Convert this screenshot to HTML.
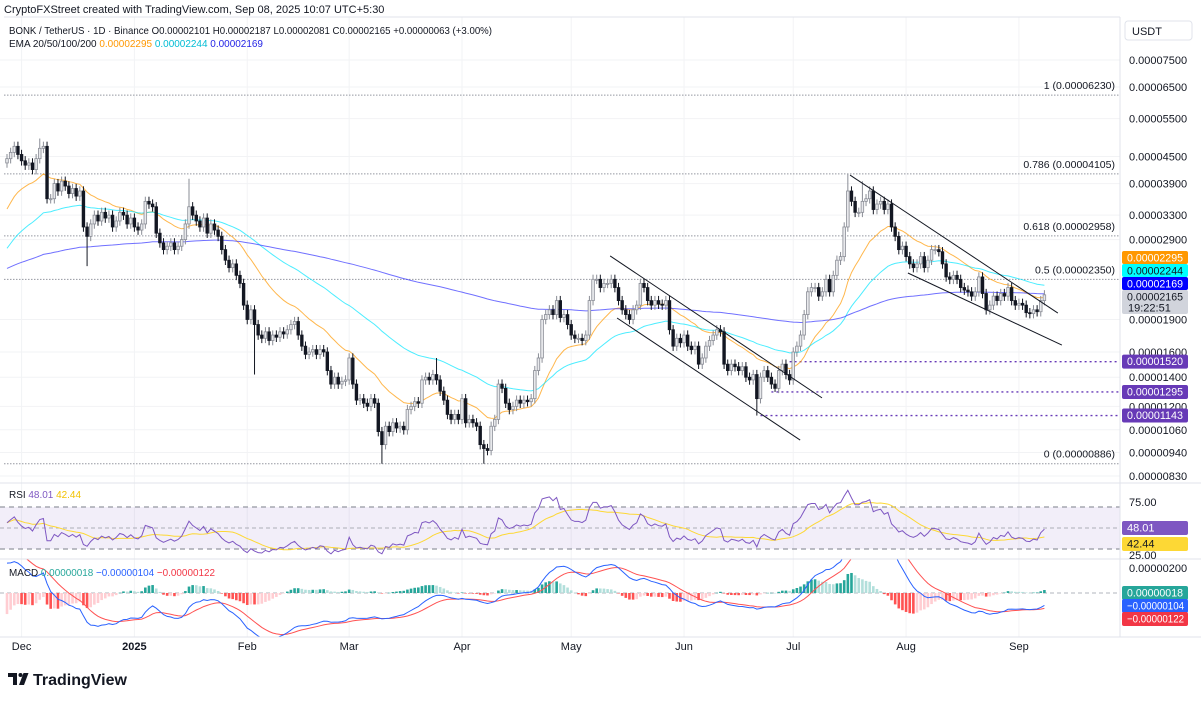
<!DOCTYPE html>
<html><head><meta charset="utf-8">
<style>
html,body{margin:0;padding:0;background:#fff;}
body{width:1201px;height:701px;overflow:hidden;font-family:"Liberation Sans",sans-serif;}
svg text{font-family:"Liberation Sans",sans-serif;}
</style></head>
<body>
<svg id="chart" width="1201" height="701" viewBox="0 0 1201 701" xmlns="http://www.w3.org/2000/svg">
  <defs>
    <clipPath id="cp-price"><rect x="0" y="17" width="1120" height="466"/></clipPath>
    <clipPath id="cp-rsi"><rect x="0" y="483" width="1120" height="76"/></clipPath>
    <clipPath id="cp-macd"><rect x="0" y="559" width="1120" height="78"/></clipPath>
  </defs>
  <text x="4" y="13" font-size="11" fill="#131722">CryptoFXStreet created with TradingView.com, Sep 08, 2025 10:07 UTC+5:30</text>
  <g id="grid"></g>
  <g id="fibs"></g>
  <g id="emas" clip-path="url(#cp-price)"></g>
  <g id="candles" clip-path="url(#cp-price)"></g>
  <g id="draw" clip-path="url(#cp-price)"></g>
  <g id="rsi" clip-path="url(#cp-rsi)"></g>
  <g id="macd" clip-path="url(#cp-macd)"></g>
  <g id="frame">
    <line x1="4" y1="17" x2="1120" y2="17" stroke="#e0e3eb"/>
    <line x1="1120" y1="17" x2="1120" y2="637" stroke="#e0e3eb"/>
    <line x1="0" y1="483" x2="1201" y2="483" stroke="#e0e3eb"/>
    <line x1="0" y1="559" x2="1201" y2="559" stroke="#e0e3eb"/>
    <line x1="0" y1="637" x2="1201" y2="637" stroke="#e0e3eb"/>
  </g>
  <g id="axis"></g>
  <g id="legend">
    <text x="9" y="34" font-size="10.5" fill="#131722" textLength="483" lengthAdjust="spacingAndGlyphs">BONK / TetherUS · 1D · Binance  O0.00002101  H0.00002187  L0.00002081  C0.00002165  +0.00000063 (+3.00%)</text>
    <text x="9" y="47" font-size="10.5" fill="#131722" textLength="254" lengthAdjust="spacingAndGlyphs">EMA 20/50/100/200 <tspan fill="#ff9800">0.00002295</tspan> <tspan fill="#00bcd4">0.00002244</tspan> <tspan fill="#2323e6">0.00002169</tspan></text>
    <text x="9" y="498" font-size="10.5" fill="#131722" textLength="72" lengthAdjust="spacingAndGlyphs">RSI <tspan fill="#7e57c2">48.01</tspan> <tspan fill="#f2c200">42.44</tspan></text>
    <text x="9" y="576" font-size="10.5" fill="#131722" textLength="206" lengthAdjust="spacingAndGlyphs">MACD <tspan fill="#26a69a">0.00000018</tspan> <tspan fill="#2962ff">−0.00000104</tspan> <tspan fill="#f23645">−0.00000122</tspan></text>
  </g>
  <g id="time"></g>
  <g>
    <path d="M8 673 h9 v12 h-4 v-8 h-5 z" fill="#131722"/>
    <circle cx="20.5" cy="675" r="2" fill="#131722"/>
    <path d="M19 685 l4.5 -12 h5 l-4.5 12 z" fill="#131722"/>
    <text x="33" y="685" font-size="16" font-weight="bold" fill="#131722">TradingView</text>
  </g>
</svg>
<script>
// ---- data ----
const closes = [
4.45,4.60,4.75,4.55,4.40,4.30,4.35,4.20,4.45,4.70,4.75,3.60,
3.60,3.90,3.75,3.95,3.85,3.70,3.80,3.65,3.75,
3.10,2.95,3.15,3.30,3.20,3.35,3.25,3.30,3.10,3.20,3.35,3.30,3.15,3.25,3.10,3.05,3.15,
3.55,3.50,3.45,3.00,2.85,2.75,2.80,2.85,2.75,2.80,2.90,
3.15,3.45,3.30,3.20,3.10,3.25,3.00,3.15,3.05,2.95,
2.75,2.60,2.50,2.55,2.40,2.30,2.05,1.90,2.00,1.85,
1.75,1.72,1.78,1.70,1.75,1.73,1.78,1.76,1.80,1.85,1.88,
1.75,1.65,1.58,1.60,1.62,1.58,1.62,1.60,
1.45,1.35,1.40,1.35,1.37,1.38,1.55,
1.35,1.24,1.25,1.22,1.20,1.25,1.22,
1.05,0.98,1.08,1.05,1.10,1.07,1.08,1.06,
1.18,1.20,1.23,1.22,1.38,1.40,1.38,1.42,1.38,
1.30,1.24,1.15,1.12,1.15,1.12,1.25,1.10,1.12,1.10,1.08,
0.98,0.96,0.95,1.08,1.12,1.35,1.32,
1.22,1.18,1.20,1.24,1.22,1.24,1.23,1.25,1.45,1.55,
1.90,1.95,2.00,1.95,2.10,1.92,1.95,1.85,1.75,1.72,1.72,
1.70,1.75,2.10,2.35,2.35,2.25,2.30,2.30,2.35,2.25,
2.10,2.00,1.95,1.90,2.00,2.05,2.30,2.25,2.10,2.05,2.10,2.06,2.05,2.10,
1.80,1.65,1.72,1.68,1.75,1.65,1.62,1.65,1.50,1.55,1.65,1.70,
1.75,1.80,1.78,1.50,1.45,1.50,1.48,1.45,1.48,1.40,1.38,1.42,
1.25,1.40,1.45,1.40,1.35,1.32,1.45,1.50,1.42,1.38,1.60,1.65,1.75,
1.95,2.20,2.25,2.25,2.15,2.20,2.35,2.20,2.40,2.60,2.65,3.10,3.75,
3.55,3.35,3.35,3.55,3.60,3.75,3.40,3.50,3.55,3.40,3.50,3.10,2.95,
2.75,2.80,2.65,2.55,2.50,2.55,2.65,2.50,2.60,2.75,2.75,2.72,2.55,2.38,2.35,
2.40,2.35,2.25,2.22,2.20,2.15,2.20,2.38,2.18,2.00,2.05,2.15,2.10,2.18,2.15,2.25,2.10,
2.05,2.07,2.05,1.97,1.96,2.00,1.98,2.10,2.165];
const firstOpen = 4.35;
const wickHighIdx = [50, 118, 231, 9, 235];
const wickHighVal = [4.00, 1.55, 4.10, 4.95, 3.95];
const wickLowIdx = [22, 68, 103, 131, 206, 211];
const wickLowVal = [2.52, 1.42, 0.886, 0.886, 1.143, 1.295];
const fibLevels = ["1", "0.786", "0.618", "0.5", "0"];
const fibPrices = [6.230, 4.105, 2.958, 2.350, 0.886];
const axisTicks = [7.5, 6.5, 5.5, 4.5, 3.9, 3.3, 2.9, 1.9, 1.6, 1.4, 1.2, 1.06, 0.94, 0.83];
const supportPrices = [1.520, 1.295, 1.143];
const supportStartIdx = [215, 210, 207];
const channelStartIdx = [165.7, 167.6, 231.6, 247.5];
const channelStartPrice = [2.66, 1.915, 4.08, 2.43];
const channelEndIdx = [223.9, 217.9, 288.7, 289.8];
const channelEndPrice = [1.255, 1.004, 1.966, 1.66];
const monthLabels = ["Dec","2025","Feb","Mar","Apr","May","Jun","Jul","Aug","Sep"];
const monthIdx = [4,35,66,94,125,155,186,216,247,278];

// ---- scales ----
const NS = "http://www.w3.org/2000/svg";
const xOf = i => 7 + i * 3.64;
const yOf = p => 60 + (Math.log(7.5) - Math.log(p)) * 189;
const yRsi = v => 528 - (v - 50) * 1.05;
const yMacd = v => 593 - v * 125;
function mk(tag, attrs, parent){ const e=document.createElementNS(NS,tag); for(const k in attrs) e.setAttribute(k,attrs[k]); parent.appendChild(e); return e; }
function fmtP8(p){ const n=Math.round(p*1000); return "0." + String(n).padStart(8,"0"); }

const g = id => document.getElementById(id);
const N = closes.length;
const opens = closes.map((c,i)=> i===0 ? firstOpen : closes[i-1]);

// grid
for (const t of axisTicks){
  const gl = mk("line",{x1:0,x2:1120,y1:yOf(t),y2:yOf(t),stroke:"#f2f3f5"},g("grid"));
  
  
}
monthIdx.forEach(mi=>{
  const vl = mk("line",{x1:xOf(mi),x2:xOf(mi),y1:17,y2:637,stroke:"#f2f3f5"},g("grid"));
  
  
});

// fib levels
fibLevels.forEach((lv,k)=>{
  const y=yOf(fibPrices[k]);
  const l = mk("line",{x1:4,x2:1120,y1:y,y2:y,stroke:"#9598a1","stroke-dasharray":"1.5,1.5"},g("fibs"));
  
  
  const t = mk("text",{x:1115,y:y-6,"font-size":10.5,fill:"#131722","text-anchor":"end"},g("fibs"));
  t.textContent = lv + " (" + fmtP8(fibPrices[k]) + ")";
  
  
});

// support lines
supportPrices.forEach((p,k)=>{
  const y=yOf(p);
  const l = mk("line",{x1:xOf(supportStartIdx[k]),x2:1120,y1:y,y2:y,stroke:"#673ab7","stroke-width":1.3,"stroke-dasharray":"2,3"},g("fibs"));
  
  
});

// EMAs
function ema(period, seed){ const a=2/(period+1); let e=seed; return closes.map(c=> (e = e + a*(c-e))); }
const ema20 = ema(20, 3.3), ema50 = ema(50, 2.7), ema200 = ema(200, 2.47);
[[ema20,"#ff9800","ema-20-line"],[ema50,"#00e5ff","ema-50-line"],[ema200,"#3333ff","ema-200-line"]].forEach(([arr,col,name])=>{
  const d = arr.map((v,i)=>(i?"L":"M")+xOf(i).toFixed(1)+","+yOf(v).toFixed(1)).join("");
  const p = mk("path",{d,fill:"none",stroke:col,"stroke-width":1,opacity:0.7},g("emas"));
  
  
});

// candles
for (let i=0;i<N;i++){
  const o=opens[i], c=closes[i];
  let hi=Math.max(o,c)*1.025, lo=Math.min(o,c)*0.975;
  const hk=wickHighIdx.indexOf(i); if(hk>=0) hi=wickHighVal[hk];
  const lk=wickLowIdx.indexOf(i); if(lk>=0) lo=wickLowVal[lk];
  const x=xOf(i), up=c>=o;
  const w = mk("line",{x1:x,x2:x,y1:yOf(hi),y2:yOf(lo),stroke:up?"#8a8d96":"#131722","stroke-width":1},g("candles"));
  
  
  const yt=yOf(Math.max(o,c)), yb=yOf(Math.min(o,c));
  const b = mk("rect",{x:x-1.3,y:yt,width:2.6,height:Math.max(1,yb-yt),fill:up?"#e8e9ec":"#131722",stroke:up?"#8a8d96":"#131722","stroke-width":0.8},g("candles"));
  
  
}

// channels
for (let k=0;k<4;k++){
  const l = mk("line",{x1:xOf(channelStartIdx[k]),y1:yOf(channelStartPrice[k]),x2:xOf(channelEndIdx[k]),y2:yOf(channelEndPrice[k]),stroke:"#131722","stroke-width":1},g("draw"));
  
  
}

// RSI
const rsiVals=[]; { let ag=0.09, al=0.08;
  for(let i=0;i<N;i++){ const ch=closes[i]-opens[i]; const gn=Math.max(ch,0), ls=Math.max(-ch,0);
    ag=(ag*13+gn)/14; al=(al*13+ls)/14; rsiVals.push(100-100/(1+ag/al)); } }
const rsiMa = rsiVals.map((v,i)=>{ const s=Math.max(0,i-13); const sl=rsiVals.slice(s,i+1); return sl.reduce((a,b)=>a+b,0)/sl.length; });
{
  const bg = mk("rect",{x:0,y:yRsi(70),width:1120,height:yRsi(30)-yRsi(70),fill:"#7e57c2","fill-opacity":0.1},g("rsi"));
  
  
  [70,50,30].forEach(v=>{
    const l = mk("line",{x1:0,x2:1120,y1:yRsi(v),y2:yRsi(v),stroke:"#9598a1","stroke-dasharray":v===50?"4,3":"5,4","stroke-width":v===50?0.8:1.2},g("rsi"));
    
    
  });
  const pm = mk("path",{d:rsiMa.map((v,i)=>(i?"L":"M")+xOf(i).toFixed(1)+","+yRsi(v).toFixed(1)).join(""),fill:"none",stroke:"#fdd835","stroke-width":1},g("rsi"));
  
  
  const pr = mk("path",{d:rsiVals.map((v,i)=>(i?"L":"M")+xOf(i).toFixed(1)+","+yRsi(v).toFixed(1)).join(""),fill:"none",stroke:"#7e57c2","stroke-width":1},g("rsi"));
  
  
}

// MACD
const macdLine=[], sigLine=[], hist=[]; { let e12=4.35,e26=4.10,s=0.45;
  for(let i=0;i<N;i++){ e12+= (2/13)*(closes[i]-e12); e26+=(2/27)*(closes[i]-e26); const m=e12-e26; s+=(2/10)*(m-s);
    macdLine.push(m); sigLine.push(s); hist.push(m-s);} }
{
  const z = mk("line",{x1:0,x2:1120,y1:593,y2:593,stroke:"#b2b5be","stroke-dasharray":"4,3"},g("macd"));
  
  
  hist.forEach((h,i)=>{
    const prev = i? hist[i-1] : h;
    const col = h>=0 ? (h>=prev?"#26a69a":"#b2dfdb") : (h<prev?"#ff5252":"#ffcdd2");
    const y1=yMacd(Math.max(h,0)), y2=yMacd(Math.min(h,0));
    const r = mk("rect",{x:xOf(i)-1.3,y:y1,width:2.6,height:Math.max(0.5,y2-y1),fill:col},g("macd"));
    
    
  });
  const ps = mk("path",{d:sigLine.map((v,i)=>(i?"L":"M")+xOf(i).toFixed(1)+","+yMacd(v).toFixed(1)).join(""),fill:"none",stroke:"#ff5252","stroke-width":1},g("macd"));
  
  
  const pm = mk("path",{d:macdLine.map((v,i)=>(i?"L":"M")+xOf(i).toFixed(1)+","+yMacd(v).toFixed(1)).join(""),fill:"none",stroke:"#2962ff","stroke-width":1},g("macd"));
  
  
}

// price axis
{
  const ax=g("axis");
  const ub = mk("rect",{x:1125,y:21,width:67,height:19,rx:3,fill:"#fff",stroke:"#e0e3eb"},ax);
  
  
  const ut = mk("text",{x:1132,y:35,"font-size":11,fill:"#131722"},ax); ut.textContent="USDT";
  
  
  axisTicks.forEach(t=>{
    const tx = mk("text",{x:1129,y:yOf(t)+4,"font-size":11,fill:"#131722"},ax);
    tx.textContent = fmtP8(t);
    
    
  });
  function box(y,h,bg,fg,txt,name,txt2){
    const r = mk("rect",{x:1122,y:y,width:66,height:h,rx:2,fill:bg},ax);
    
    
    const t = mk("text",{x:1127,y:y+10.5,"font-size":11,fill:fg,textLength:txt.length>10?57:56,lengthAdjust:"spacingAndGlyphs"},ax); t.textContent=txt;
    if(txt.length<8){ t.removeAttribute('textLength'); t.removeAttribute('lengthAdjust'); }
    
    
    if(txt2){ const t2=mk("text",{x:1128,y:y+21.5,"font-size":11,fill:fg},ax); t2.textContent=txt2;
      
       }
  }
  supportPrices.forEach(p=> box(yOf(p)-7,14,"#673ab7","#fff",fmtP8(p),"support-price-label"));
  box(251,13,"#ff9800","#fff","0.00002295","ema20-label");
  box(264,13,"#00ffff","#131722","0.00002244","ema50-label");
  box(277,13,"#0000ff","#fff","0.00002169","ema200-label");
  box(290,24,"#d1d4dc","#131722","0.00002165","last-price-label","19:22:51");
  const r75=mk("text",{x:1129,y:506,"font-size":11,fill:"#131722"},ax); r75.textContent="75.00";
  
  
  const r25=mk("text",{x:1129,y:559,"font-size":11,fill:"#131722"},ax); r25.textContent="25.00";
  
  
  box(521,14,"#7e57c2","#fff","48.01","rsi-value-label");
  box(537,14,"#fdd835","#131722","42.44","rsi-ma-label");
  const m2=mk("text",{x:1129,y:572,"font-size":11,fill:"#131722"},ax); m2.textContent="0.00000200";
  
  
  box(586,14,"#26a69a","#fff","0.00000018","macd-hist-label");
  box(599,14,"#2962ff","#fff","−0.00000104","macd-value-label");
  box(612,14,"#f23645","#fff","−0.00000122","macd-signal-label");
}

// time axis
monthLabels.forEach((m,k)=>{
  const t = mk("text",{x:xOf(monthIdx[k]),y:650,"font-size":11,fill:"#131722","text-anchor":"middle","font-weight":m==="2025"?"bold":"normal"},g("time"));
  t.textContent=m;
  
  
});
</script>
</body></html>
